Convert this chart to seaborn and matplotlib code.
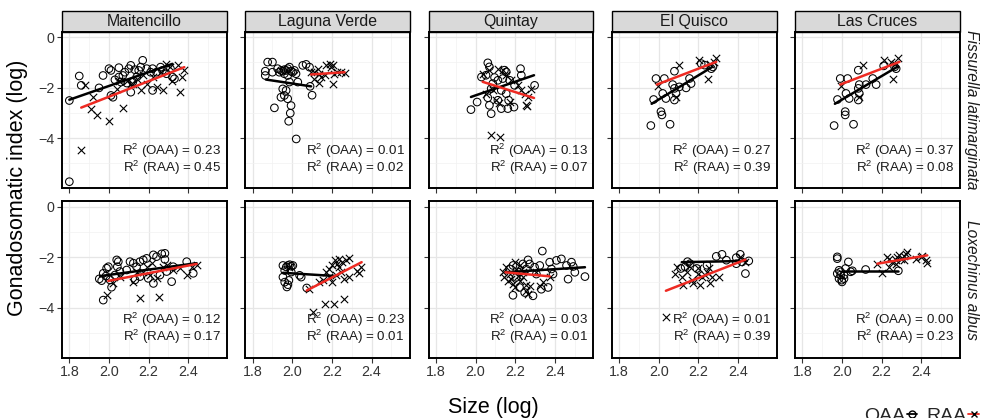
import matplotlib
matplotlib.use("Agg")
import matplotlib.pyplot as plt
import seaborn as sns
import pandas as pd
from matplotlib.lines import Line2D
from matplotlib.patches import Rectangle
from matplotlib.ticker import FixedLocator

# ---------------- data ----------------
sites = ["Maitencillo", "Laguna Verde", "Quintay", "El Quisco", "Las Cruces"]
species = ["Fissurella latimarginata", "Loxechinus albus"]

r2_oaa_fis = [0.23, 0.01, 0.13, 0.27, 0.37]
r2_raa_fis = [0.45, 0.02, 0.07, 0.39, 0.08]
r2_oaa_lox = [0.12, 0.23, 0.03, 0.01, 0.00]
r2_raa_lox = [0.17, 0.01, 0.01, 0.39, 0.23]

# (size log, gonadosomatic index log)
fis_mai_oaa = [(1.80, -2.51), (1.85, -1.54), (1.86, -1.91), (1.95, -2.01), (1.97, -1.52), (2.00, -1.25),
               (2.01, -1.32), (2.01, -2.31), (2.02, -2.38), (2.03, -1.69), (2.05, -1.21), (2.05, -1.58),
               (2.06, -1.78), (2.07, -1.52), (2.08, -1.39), (2.09, -1.82), (2.10, -1.25), (2.11, -2.18),
               (2.11, -1.12), (2.12, -1.78), (2.13, -1.29), (2.14, -1.58), (2.15, -1.32), (2.16, -1.19),
               (2.17, -0.92), (2.19, -1.25), (2.21, -1.39), (2.22, -2.11), (2.22, -1.25), (2.24, -1.39),
               (2.26, -1.19), (2.27, -1.32), (2.29, -1.45), (2.31, -1.25), (2.32, -1.58), (2.33, -1.65),
               (1.80, -5.72)]
fis_mai_raa = [(1.86, -4.46), (1.88, -1.91), (1.91, -2.84), (1.92, -2.38), (1.94, -3.10), (2.00, -3.33),
               (2.04, -2.05), (2.05, -1.72), (2.07, -2.81), (2.09, -1.72), (2.11, -1.85), (2.12, -1.85),
               (2.14, -1.65), (2.16, -2.11), (2.17, -1.52), (2.19, -1.85), (2.22, -1.58), (2.24, -1.98),
               (2.26, -1.39), (2.27, -2.11), (2.29, -1.06), (2.31, -1.19), (2.32, -1.72), (2.35, -1.12),
               (2.36, -2.18), (2.37, -1.58), (2.38, -1.32)]
fis_mai_fit_oaa = [(1.80, -2.48), (2.32, -1.06)]
fis_mai_fit_raa = [(1.86, -2.79), (2.38, -1.19)]

fis_lav_oaa = [(1.876, -0.99), (1.90, -0.99), (1.864, -1.35), (1.864, -1.52), (1.90, -1.39), (1.926, -1.25),
               (1.943, -1.32), (1.952, -1.35), (1.96, -1.29), (1.969, -1.32), (1.977, -1.25), (1.986, -1.19),
               (1.994, -1.35), (2.002, -1.39), (2.011, -1.32), (2.019, -1.45), (1.986, -1.78), (2.028, -1.78),
               (2.053, -1.12), (2.07, -1.08), (2.087, -1.19), (1.952, -2.05), (1.969, -2.11), (1.96, -2.31),
               (1.943, -2.38), (1.977, -2.44), (1.91, -2.80), (1.994, -2.71), (1.99, -3.01), (1.982, -3.33),
               (2.02, -4.03), (2.09, -1.95), (2.10, -2.30), (1.935, -1.39), (1.96, -1.45), (1.977, -1.52)]
fis_lav_raa = [(2.095, -1.39), (2.109, -1.65), (2.112, -1.39), (2.129, -1.25), (2.137, -1.45), (2.137, -1.82),
               (2.146, -1.58), (2.163, -1.52), (2.171, -1.12), (2.188, -1.06), (2.196, -1.19), (2.205, -1.12),
               (2.205, -1.87), (2.213, -1.45), (2.227, -1.39), (2.247, -1.39), (2.264, -1.43)]
fis_lav_fit_oaa = [(1.867, -1.68), (2.095, -1.95)]
fis_lav_fit_raa = [(2.095, -1.48), (2.264, -1.39)]

fis_qui_oaa = [(1.977, -2.87), (2.008, -2.57), (2.062, -1.02), (2.07, -1.18), (2.079, -3.03), (2.07, -2.70),
               (2.062, -2.40), (2.113, -2.50), (2.13, -2.83), (2.163, -2.83), (2.194, -2.77), (2.167, -2.50),
               (2.227, -1.25), (2.231, -1.51), (2.298, -1.91), (2.146, -1.31), (2.155, -1.38), (2.138, -1.64),
               (2.113, -1.71), (2.096, -1.60), (2.087, -1.84), (2.053, -1.51), (2.13, -2.11), (2.155, -2.24),
               (2.079, -2.04), (2.03, -1.58), (2.172, -1.71), (2.197, -1.91)]
fis_qui_raa = [(2.036, -1.47), (2.07, -1.31), (2.053, -2.24), (2.087, -2.11), (2.104, -2.50), (2.116, -2.61),
               (2.113, -1.25), (2.138, -1.31), (2.172, -2.57), (2.18, -1.71), (2.214, -1.91), (2.231, -2.11),
               (2.248, -2.24), (2.265, -2.37), (2.281, -2.04), (2.256, -2.70), (2.261, -2.74), (2.079, -3.89),
               (2.121, -3.96), (2.155, -1.51)]
fis_qui_fit_oaa = [(1.977, -2.37), (2.295, -1.51)]
fis_qui_fit_raa = [(2.036, -1.77), (2.295, -2.41)]

fis_eqi_oaa = [(1.96, -3.50), (2.057, -3.45), (2.011, -2.95), (2.016, -3.08), (1.974, -2.47), (2.02, -2.23),
               (2.036, -2.43), (1.986, -1.64), (2.028, -1.64), (2.079, -1.35), (2.07, -1.88), (2.079, -2.03),
               (2.087, -2.23), (2.079, -2.49), (2.104, -1.97), (2.138, -2.01), (2.155, -1.64), (2.163, -1.84),
               (2.214, -1.05), (2.231, -1.11), (2.265, -1.25), (2.273, -1.18)]
fis_eqi_raa = [(1.994, -1.93), (2.087, -2.36), (2.104, -1.09), (2.205, -0.92), (2.248, -1.64), (2.256, -1.05),
               (2.281, -0.98), (2.29, -0.83)]
fis_eqi_fit_oaa = [(1.964, -2.64), (2.27, -1.18)]
fis_eqi_fit_raa = [(1.99, -1.88), (2.29, -0.98)]

fis_lcr_oaa = [(1.96, -3.50), (2.058, -3.45), (2.016, -2.95), (2.016, -3.08), (1.977, -2.47), (2.02, -2.23),
               (2.036, -2.43), (1.991, -1.64), (2.028, -1.64), (2.082, -1.31), (2.087, -1.88), (2.082, -2.03),
               (2.087, -2.23), (2.082, -2.49), (2.121, -1.88), (2.155, -1.64), (2.172, -1.88), (2.21, -1.14),
               (2.265, -1.18), (2.273, -1.25)]
fis_lcr_raa = [(1.994, -1.93), (2.084, -2.36), (2.104, -1.11), (2.214, -0.92), (2.256, -1.67), (2.265, -1.05),
               (2.281, -0.83), (2.248, -0.98)]
fis_lcr_fit_oaa = [(1.964, -2.64), (2.278, -1.18)]
fis_lcr_fit_raa = [(1.991, -1.88), (2.29, -0.98)]

lox_mai_oaa = [(1.951, -2.86), (1.963, -2.93), (1.971, -2.64), (1.985, -2.75), (1.988, -2.44), (1.997, -2.38),
               (2.005, -2.90), (2.03, -2.71), (2.039, -2.11), (2.047, -2.18), (2.042, -2.38), (2.055, -2.57),
               (2.089, -2.51), (2.106, -2.18), (2.123, -2.24), (2.131, -2.90), (2.139, -2.38), (2.156, -2.18),
               (2.156, -2.77), (2.173, -2.11), (2.19, -2.05), (2.198, -2.84), (2.224, -1.91), (2.224, -3.04),
               (2.24, -1.98), (2.257, -2.71), (2.266, -1.87), (2.282, -1.85), (2.282, -2.09), (2.291, -2.57),
               (2.316, -2.97), (2.324, -2.38), (2.392, -2.18), (2.425, -2.64), (1.971, -3.70), (2.013, -3.19)]
lox_mai_raa = [(1.992, -3.50), (2.022, -3.04), (2.055, -2.77), (2.123, -2.97), (2.139, -2.57), (2.156, -3.63),
               (2.173, -2.57), (2.19, -2.38), (2.207, -2.71), (2.215, -2.24), (2.24, -2.84), (2.254, -3.59),
               (2.274, -2.38), (2.291, -2.31), (2.324, -2.51), (2.358, -2.44), (2.392, -2.71), (2.417, -2.38),
               (2.442, -2.31)]
lox_mai_fit_oaa = [(1.955, -2.75), (2.442, -2.24)]
lox_mai_fit_raa = [(1.997, -2.94), (2.442, -2.27)]

lox_lav_oaa = [(1.953, -2.33), (1.97, -2.39), (1.978, -2.33), (1.987, -2.30), (1.995, -2.36), (2.003, -2.33),
               (1.962, -2.53), (1.995, -2.59), (1.953, -2.79), (1.962, -2.99), (1.978, -3.09), (1.973, -3.18),
               (1.983, -2.92), (2.037, -2.72), (2.045, -2.79), (2.073, -3.22)]
lox_lav_raa = [(2.103, -4.17), (2.167, -3.84), (2.212, -3.84), (2.262, -3.67), (2.087, -3.25), (2.137, -2.99),
               (2.153, -2.92), (2.17, -2.59), (2.187, -2.46), (2.187, -2.79), (2.203, -2.33), (2.203, -2.99),
               (2.217, -2.13), (2.22, -2.72), (2.228, -2.26), (2.237, -2.07), (2.237, -2.39), (2.245, -2.59),
               (2.253, -2.20), (2.262, -2.86), (2.27, -2.13), (2.287, -2.04), (2.287, -2.79), (2.328, -2.53),
               (2.337, -2.62), (2.345, -2.39), (1.983, -2.39)]
lox_lav_fit_oaa = [(1.953, -2.62), (2.22, -2.75)]
lox_lav_fit_raa = [(2.073, -3.32), (2.35, -2.20)]

lox_qui_oaa = [(2.189, -3.51), (2.29, -3.53), (2.337, -1.76), (2.265, -2.11), (2.273, -2.27), (2.298, -2.40),
               (2.324, -2.33), (2.374, -2.20), (2.408, -2.13), (2.433, -2.07), (2.484, -2.20), (2.493, -2.37),
               (2.501, -2.60), (2.552, -2.77), (2.467, -2.87), (2.366, -3.20), (2.332, -3.27), (2.222, -3.20),
               (2.248, -3.40), (2.205, -2.80), (2.222, -2.60), (2.239, -2.27), (2.172, -2.47), (2.189, -2.33),
               (2.307, -2.67), (2.459, -2.33), (2.391, -2.67), (2.383, -2.47), (2.256, -2.47)]
lox_qui_raa = [(2.138, -2.60), (2.146, -2.80), (2.155, -2.40), (2.163, -2.93), (2.172, -2.67), (2.18, -2.87),
               (2.189, -3.07), (2.197, -2.20), (2.197, -3.20), (2.205, -2.47), (2.214, -2.73), (2.222, -2.33),
               (2.222, -2.93), (2.239, -2.60), (2.239, -2.80), (2.256, -3.09), (2.256, -3.33), (2.265, -3.47),
               (2.273, -3.13), (2.307, -2.60), (2.324, -3.13), (2.341, -3.00), (2.374, -2.80)]
lox_qui_fit_oaa = [(2.151, -2.60), (2.552, -2.40)]
lox_qui_fit_raa = [(2.151, -2.60), (2.374, -2.76)]

lox_eqi_oaa = [(2.111, -2.45), (2.133, -2.39), (2.145, -2.18), (2.158, -2.26), (2.192, -2.45), (2.243, -2.32),
               (2.29, -1.97), (2.319, -1.89), (2.341, -2.12), (2.391, -2.02), (2.391, -2.26), (2.411, -1.89),
               (2.42, -2.19), (2.437, -2.65), (2.454, -2.15)]
lox_eqi_raa = [(2.035, -4.35), (2.082, -2.65), (2.091, -2.39), (2.116, -2.78), (2.124, -3.11), (2.141, -2.58),
               (2.15, -2.36), (2.167, -2.91), (2.175, -3.04), (2.20, -2.45), (2.20, -2.65), (2.209, -3.11),
               (2.217, -2.78), (2.234, -2.71), (2.243, -2.58), (2.251, -2.45), (2.26, -3.04), (2.268, -2.78),
               (2.302, -2.78), (2.411, -1.99), (2.437, -2.19)]
lox_eqi_fit_oaa = [(2.116, -2.20), (2.445, -2.15)]
lox_eqi_fit_raa = [(2.036, -3.33), (2.437, -2.10)]

lox_lcr_oaa = [(1.976, -1.99), (1.976, -2.06), (1.976, -2.65), (1.985, -2.52), (1.993, -2.58), (1.985, -2.85),
               (1.993, -2.71), (1.998, -2.91), (2.0, -2.98), (2.01, -2.71), (2.01, -2.85), (2.018, -2.45),
               (2.032, -2.19), (2.044, -2.58), (2.052, -2.54), (2.119, -2.49), (2.284, -2.54)]
lox_lcr_raa = [(2.178, -2.26), (2.203, -2.62), (2.229, -1.99), (2.237, -2.06), (2.237, -2.39), (2.254, -2.19),
               (2.271, -2.12), (2.271, -2.28), (2.279, -1.99), (2.287, -1.93), (2.296, -2.06), (2.313, -1.97),
               (2.313, -2.12), (2.324, -1.86), (2.329, -1.80), (2.371, -2.06), (2.397, -1.99), (2.405, -1.97),
               (2.422, -2.12), (2.43, -2.23)]
lox_lcr_fit_oaa = [(2.0, -2.54), (2.284, -2.54)]
lox_lcr_fit_raa = [(2.178, -2.26), (2.43, -1.93)]

# ---------------- assemble tables ----------------
pts_sets = {
    (0, 0): (fis_mai_oaa, fis_mai_raa, fis_mai_fit_oaa, fis_mai_fit_raa),
    (0, 1): (fis_lav_oaa, fis_lav_raa, fis_lav_fit_oaa, fis_lav_fit_raa),
    (0, 2): (fis_qui_oaa, fis_qui_raa, fis_qui_fit_oaa, fis_qui_fit_raa),
    (0, 3): (fis_eqi_oaa, fis_eqi_raa, fis_eqi_fit_oaa, fis_eqi_fit_raa),
    (0, 4): (fis_lcr_oaa, fis_lcr_raa, fis_lcr_fit_oaa, fis_lcr_fit_raa),
    (1, 0): (lox_mai_oaa, lox_mai_raa, lox_mai_fit_oaa, lox_mai_fit_raa),
    (1, 1): (lox_lav_oaa, lox_lav_raa, lox_lav_fit_oaa, lox_lav_fit_raa),
    (1, 2): (lox_qui_oaa, lox_qui_raa, lox_qui_fit_oaa, lox_qui_fit_raa),
    (1, 3): (lox_eqi_oaa, lox_eqi_raa, lox_eqi_fit_oaa, lox_eqi_fit_raa),
    (1, 4): (lox_lcr_oaa, lox_lcr_raa, lox_lcr_fit_oaa, lox_lcr_fit_raa),
}
r2_oaa = [r2_oaa_fis, r2_oaa_lox]
r2_raa = [r2_raa_fis, r2_raa_lox]

rows = []
fits = []
for (r, c), (oaa, raa, foaa, fraa) in pts_sets.items():
    for x, y in oaa:
        rows.append((species[r], sites[c], "OAA", x, y))
    for x, y in raa:
        rows.append((species[r], sites[c], "RAA", x, y))
    for x, y in foaa:
        fits.append((species[r], sites[c], "OAA", x, y))
    for x, y in fraa:
        fits.append((species[r], sites[c], "RAA", x, y))
df = pd.DataFrame(rows, columns=["species", "site", "group", "size", "gsi"])
fit_df = pd.DataFrame(fits, columns=["species", "site", "group", "size", "gsi"])

# ---------------- style ----------------
sns.set_theme(style="white")
plt.rcParams["font.family"] = ["Liberation Sans", "DejaVu Sans"]
plt.rcParams["mathtext.fontset"] = "custom"
plt.rcParams["mathtext.rm"] = "Liberation Sans"
plt.rcParams["mathtext.it"] = "Liberation Sans:italic"
plt.rcParams["axes.unicode_minus"] = True

W, H = 981, 418
fig, axes = plt.subplots(2, 5, figsize=(W / 100, H / 100), dpi=100, sharex=True, sharey=True)
fig.subplots_adjust(left=62 / W, right=960 / W, top=1 - 32 / H, bottom=1 - 357.5 / H,
                    wspace=0.111, hspace=0.0865)

RED = "#ee2a22"
for r in range(2):
    for c in range(5):
        ax = axes[r, c]
        sub = df[(df.species == species[r]) & (df.site == sites[c])]
        fsub = fit_df[(fit_df.species == species[r]) & (fit_df.site == sites[c])]
        sns.scatterplot(data=sub[sub.group == "OAA"], x="size", y="gsi", ax=ax, marker="o", s=30,
                        facecolor="none", edgecolor="black", linewidth=0.75, legend=False, zorder=3)
        sns.scatterplot(data=sub[sub.group == "RAA"], x="size", y="gsi", ax=ax, marker="x", s=28,
                        color="black", linewidth=0.8, legend=False, zorder=3)
        sns.lineplot(data=fsub[fsub.group == "OAA"], x="size", y="gsi", ax=ax, color="black",
                     linewidth=1.8, sort=False, zorder=4)
        sns.lineplot(data=fsub[fsub.group == "RAA"], x="size", y="gsi", ax=ax, color=RED,
                     linewidth=1.8, sort=False, zorder=5)

        ax.set_xlim(1.763, 2.595)
        ax.set_ylim(-5.97, 0.2)
        ax.xaxis.set_major_locator(FixedLocator([1.8, 2.0, 2.2, 2.4]))
        ax.xaxis.set_minor_locator(FixedLocator([1.9, 2.1, 2.3, 2.5]))
        ax.yaxis.set_major_locator(FixedLocator([-4, -2, 0]))
        ax.yaxis.set_minor_locator(FixedLocator([-5, -3, -1]))
        ax.set_xticklabels(["1.8", "2.0", "2.2", "2.4"])
        ax.grid(which="major", color="#e6e6e6", linewidth=0.9)
        ax.grid(which="minor", color="#f1f1f1", linewidth=0.5)
        ax.set_axisbelow(True)
        for sp in ax.spines.values():
            sp.set_color("black")
            sp.set_linewidth(1.4)
        ax.tick_params(which="major", direction="out", length=3.5, width=0.8, color="#333333",
                       labelsize=10.3, labelcolor="#333333", pad=2, left=True, bottom=True)
        ax.tick_params(which="minor", length=0)
        ax.set_xlabel("")
        ax.set_ylabel("")

        ax.text(0.965, 0.24, "R$^{2}$ (OAA) = %.2f" % r2_oaa[r][c], transform=ax.transAxes,
                ha="right", va="center", fontsize=9.6, color="#1a1a1a")
        ax.text(0.965, 0.132, "R$^{2}$ (RAA) = %.2f" % r2_raa[r][c], transform=ax.transAxes,
                ha="right", va="center", fontsize=9.6, color="#1a1a1a")

        if r == 0:
            ax.add_patch(Rectangle((0, 1), 1, 21 / 156, transform=ax.transAxes, facecolor="#d9d9d9",
                                   edgecolor="black", linewidth=1.0, clip_on=False))
            ax.text(0.5, 1 + 10.5 / 156, sites[c], transform=ax.transAxes, ha="center", va="center",
                    fontsize=11.4, color="#1a1a1a")
        if c == 4:
            ax.text(1 + 12 / 165, 0.5, species[r], transform=ax.transAxes, rotation=270,
                    ha="center", va="center", fontsize=11.2, style="italic", color="#1a1a1a")

fig.text(18 / W, 1 - 188 / H, "Gonadosomatic index (log)", rotation=90, ha="center", va="center",
         fontsize=15.5, color="black")
fig.text(493 / W, 1 - 407 / H, "Size (log)", ha="center", va="center", fontsize=15.5, color="black")

handles = [Line2D([0], [0], color="black", lw=1.3, marker="o", mfc="none", mec="black", ms=5),
           Line2D([0], [0], color=RED, lw=1.3, marker="x", mec="black", ms=5)]
fig.legend(handles, ["OAA", "RAA"], ncol=2, markerfirst=False, frameon=False, loc="center right",
           bbox_to_anchor=(979 / W, 1 - 416 / H), fontsize=14, handlelength=0.55, handletextpad=0.1,
           columnspacing=0.45, borderpad=0, borderaxespad=0)

fig.savefig("out.png", dpi=100)
